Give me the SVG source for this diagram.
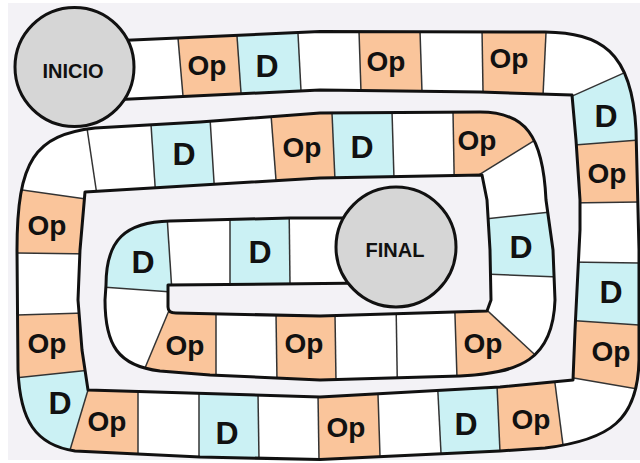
<svg xmlns="http://www.w3.org/2000/svg" width="640" height="463" viewBox="0 0 640 463">
<style>
.bg{fill:#f3f2f6}
.band{fill:#ffffff;stroke:none}
.edge{fill:none;stroke:#111;stroke-width:3;stroke-linejoin:round}
.op{fill:#fac59b}
.d{fill:#cbf1f4}
#dividers line{stroke:#333;stroke-width:1.5}
.t{font-family:"Liberation Sans",Arial,sans-serif;font-weight:bold;fill:#111;text-anchor:middle}
.t28{font-size:28px}
.t32{font-size:32px}
.t20{font-size:20px}
.end circle{fill:#d6d6d6;stroke:#111;stroke-width:3}
</style>
<defs>
<path id="bandPath" d="M110,41 L320,31.5 L545,32 C600,33 632,50 636,130 L639,250 L639,360 C638,420 610,440 545,448 L500,451 L320,459.5 L200,457 L75,451 C35,445 20,420 18,370 L17,250 C17,160 35,135 95,128 L200,122 L320,113 L480,112 C525,112 543,135 546,200 L553,250 L555,300 C553,360 520,373 460,376 L320,380 L210,375 L160,371 C118,366 105,345 105,300 L106,285 C106,240 125,222 170,221 L290,218 L370,218 L370,283 L168,285 L168,307 Q168,313 176,313 L320,316 L487,311 L491,300 L490,250 L487,200 L482,175 L320,178 L85,192 L80,250 L78,300 L82,350 L88,390 L320,397 L500,387 L573,380 L575,330 L580,230 L580,200 L576,140 L572,95 L480,92 L320,90 L110,100 Z"/>
<clipPath id="bandClip"><use href="#bandPath"/></clipPath>
</defs>
<rect width="640" height="463" fill="#ffffff"/>
<rect class="bg" x="8" y="3" width="632" height="457"/>
<g id="track"><use href="#bandPath" class="band"/></g>
<g id="cells" clip-path="url(#bandClip)">
<g id="op1"><polygon class="op" points="176.6,22 236,22 241.8,104 183.7,104"/><text class="t t28" x="207" y="75">Op</text></g>
<g id="d1"><polygon class="d" points="236,22 297.4,22 301.7,104 241.8,104"/><text class="t t32" x="267" y="77">D</text></g>
<g id="op2"><polygon class="op" points="358.7,22 419.7,22 422.4,104 361.4,104"/><text class="t t28" x="386" y="71">Op</text></g>
<g id="op3"><polygon class="op" points="481.9,22 546.5,22 542.6,104 483.2,104"/><text class="t t28" x="509" y="68">Op</text></g>
<g id="d2"><polygon class="d" points="562,100.6 645,63.6 645,139.6 568,145.6"/><text class="t t32" x="606" y="127">D</text></g>
<g id="op4"><polygon class="op" points="568,145.6 645,139.6 645,201.9 568,203.1"/><text class="t t28" x="607" y="183">Op</text></g>
<g id="d3"><polygon class="d" points="568,262 645,263 645,325.3 568,320.3"/><text class="t t32" x="611" y="303">D</text></g>
<g id="op5"><polygon class="op" points="568,320.3 645,325.3 645,390.2 562,376.1"/><text class="t t28" x="611" y="361">Op</text></g>
<g id="op6"><polygon class="op" points="496.8,381 554.7,381 565.6,465 500.6,465"/><text class="t t28" x="531" y="429">Op</text></g>
<g id="d4"><polygon class="d" points="437.5,384 496.9,384 500.6,465 441.6,465"/><text class="t t32" x="466" y="435">D</text></g>
<g id="op7"><polygon class="op" points="317.9,388 377.8,388 380.3,465 319.1,465"/><text class="t t28" x="346" y="437">Op</text></g>
<g id="d5"><polygon class="d" points="199,387 257.9,387 259.1,465 199,465"/><text class="t t32" x="227" y="444">D</text></g>
<g id="op8"><polygon class="op" points="89.5,385 138,385 138,465 65.5,465"/><text class="t t28" x="107" y="431">Op</text></g>
<g id="d6"><polygon class="d" points="8,378.7 93,369.7 94,370 65.5,465 8,465"/><text class="t t32" x="60" y="414">D</text></g>
<g id="op9"><polygon class="op" points="8,315.2 93,312.8 93,369.7 8,378.7"/><text class="t t28" x="47" y="353">Op</text></g>
<g id="op10"><polygon class="op" points="8,188 93,200.1 93,254.1 8,253"/><text class="t t28" x="47" y="235">Op</text></g>
<g id="d7"><polygon class="d" points="149.9,108 209.4,108 215.1,200 156,200"/><text class="t t32" x="184" y="165">D</text></g>
<g id="op11"><polygon class="op" points="270.2,104 331.6,104 335.7,196 277.2,196"/><text class="t t28" x="302" y="157">Op</text></g>
<g id="d8"><polygon class="d" points="331.6,104 391.8,104 394.5,196 335.7,196"/><text class="t t32" x="362" y="158">D</text></g>
<g id="op12"><polygon class="op" points="452.8,100 560,100 560,124.6 470,180.4 454.5,196"/><text class="t t28" x="477" y="150">Op</text></g>
<g id="d9"><polygon class="d" points="478,219.7 565,210.5 565,277.2 478,273.7"/><text class="t t32" x="521" y="258">D</text></g>
<g id="op13"><polygon class="op" points="454.5,300 476,300 550,368.8 550,376 457,381"/><text class="t t28" x="483" y="353">Op</text></g>
<g id="op14"><polygon class="op" points="275.8,300 334.8,300 336.1,388 277.1,388"/><text class="t t28" x="304" y="353">Op</text></g>
<g id="op15"><polygon class="op" points="173.4,300 216,300 216,384 138.3,384"/><text class="t t28" x="185" y="355">Op</text></g>
<g id="d10"><polygon class="d" points="95,286.6 95,205 166.3,205 172,292"/><text class="t t32" x="143" y="273">D</text></g>
<g id="d11"><polygon class="d" points="230,200 289,200 290.2,300 230,300"/><text class="t t32" x="260" y="263">D</text></g>
</g>
<g id="dividers" clip-path="url(#bandClip)">
<line x1="176.6" y1="22" x2="183.7" y2="104"/>
<line x1="236" y1="22" x2="241.8" y2="104"/>
<line x1="297.4" y1="22" x2="301.7" y2="104"/>
<line x1="358.7" y1="22" x2="361.4" y2="104"/>
<line x1="419.7" y1="22" x2="422.4" y2="104"/>
<line x1="481.9" y1="22" x2="483.2" y2="104"/>
<line x1="546.5" y1="22" x2="542.6" y2="104"/>
<line x1="562" y1="100.6" x2="645" y2="63.6"/>
<line x1="568" y1="145.6" x2="645" y2="139.6"/>
<line x1="568" y1="203.1" x2="645" y2="201.9"/>
<line x1="568" y1="262" x2="645" y2="263"/>
<line x1="568" y1="320.3" x2="645" y2="325.3"/>
<line x1="562" y1="376.1" x2="645" y2="390.2"/>
<line x1="554.7" y1="381" x2="565.6" y2="465"/>
<line x1="496.8" y1="381" x2="500.6" y2="465"/>
<line x1="437.5" y1="384" x2="441.6" y2="465"/>
<line x1="377.8" y1="388" x2="380.3" y2="465"/>
<line x1="317.9" y1="388" x2="319.1" y2="465"/>
<line x1="257.9" y1="387" x2="259.1" y2="465"/>
<line x1="199" y1="387" x2="199" y2="465"/>
<line x1="138" y1="385" x2="138" y2="465"/>
<line x1="94" y1="370" x2="65.5" y2="465"/>
<line x1="8" y1="378.7" x2="93" y2="369.7"/>
<line x1="8" y1="315.2" x2="93" y2="312.8"/>
<line x1="8" y1="253" x2="93" y2="254.1"/>
<line x1="8" y1="188" x2="93" y2="200.1"/>
<line x1="84" y1="108" x2="97.7" y2="200"/>
<line x1="149.9" y1="108" x2="156" y2="200"/>
<line x1="209.4" y1="108" x2="215.1" y2="200"/>
<line x1="270.2" y1="104" x2="277.2" y2="196"/>
<line x1="331.6" y1="104" x2="335.7" y2="196"/>
<line x1="391.8" y1="104" x2="394.5" y2="196"/>
<line x1="452.8" y1="100" x2="454.5" y2="196"/>
<line x1="470" y1="180.4" x2="560" y2="124.6"/>
<line x1="478" y1="219.7" x2="565" y2="210.5"/>
<line x1="478" y1="273.7" x2="565" y2="277.2"/>
<line x1="476" y1="300" x2="550" y2="368.8"/>
<line x1="454.5" y1="300" x2="457.1" y2="381"/>
<line x1="396" y1="300" x2="397.4" y2="388"/>
<line x1="334.8" y1="300" x2="336.1" y2="388"/>
<line x1="275.8" y1="300" x2="277.1" y2="388"/>
<line x1="216" y1="300" x2="216" y2="384"/>
<line x1="173.4" y1="300" x2="138.3" y2="384"/>
<line x1="95" y1="286.6" x2="172" y2="292"/>
<line x1="166.3" y1="205" x2="172" y2="292"/>
<line x1="230" y1="200" x2="230" y2="300"/>
<line x1="289" y1="200" x2="290.2" y2="300"/>
</g>
<g id="track-edge"><use href="#bandPath" class="edge"/></g>
<g id="inicio" class="end"><circle cx="74.5" cy="67" r="59.5"/><text class="t t20" x="73" y="78">INICIO</text></g>
<g id="final" class="end"><circle cx="396" cy="247" r="60"/><text class="t t20" x="395" y="257">FINAL</text></g>
</svg>
